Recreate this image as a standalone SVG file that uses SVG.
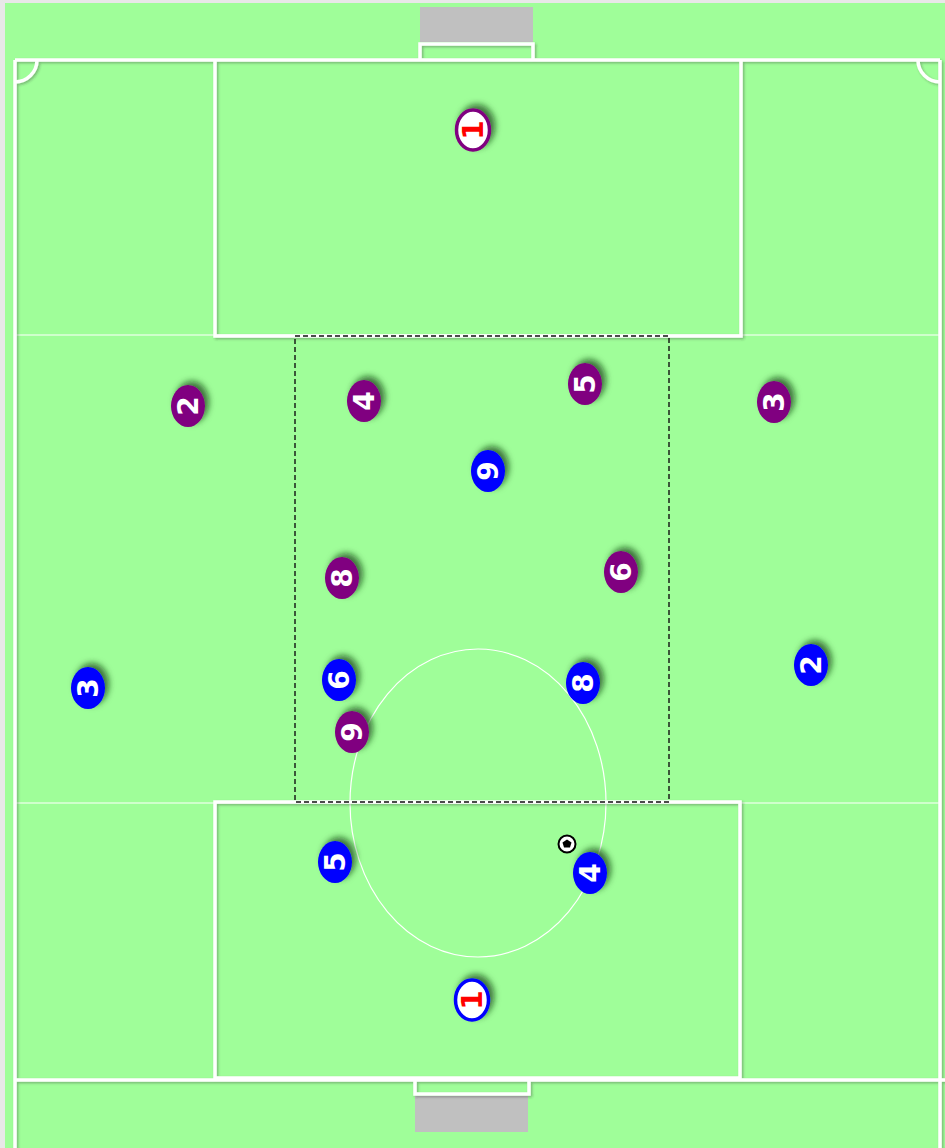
<svg xmlns="http://www.w3.org/2000/svg" width="945" height="1148" viewBox="0 0 945 1148">
<defs>
<filter id="sh" x="-50%" y="-50%" width="200%" height="200%">
<feDropShadow dx="4" dy="-4" stdDeviation="3" flood-color="#143d12" flood-opacity="0.7"/>
</filter>
<filter id="lsh" x="-5%" y="-5%" width="110%" height="110%">
<feDropShadow dx="1.5" dy="1.5" stdDeviation="1" flood-color="#333" flood-opacity="0.35"/>
</filter>
</defs>
<style>
.ln{fill:none;stroke:#fff;stroke-width:3.5}
.thin{fill:none;stroke:#fff;stroke-width:1.2}
.goal{fill:#c0c0c0}
.p{fill:#800080}
.b{fill:#0000ff}
.gkp{fill:#fff;stroke:#800080;stroke-width:3.5}
.gkb{fill:#fff;stroke:#0000ff;stroke-width:3.5}
.t{font-family:"DejaVu Sans",sans-serif;font-weight:bold;font-size:28px;fill:#fff;text-anchor:middle;dominant-baseline:central}
.r{fill:#ff0000}
</style>
<rect x="0" y="0" width="945" height="1148" fill="#e8e8e8"/>
<rect x="5" y="3" width="940" height="1145" fill="#9ffe99"/>
<g id="pitch">
<rect class="goal" x="420" y="7" width="113" height="35"/>
<rect class="goal" x="415" y="1096" width="113" height="36"/>
<line class="thin" x1="15" y1="335" x2="940" y2="335"/>
<line class="thin" x1="15" y1="803" x2="940" y2="803"/>
<ellipse class="thin" cx="478" cy="803" rx="128" ry="154"/>
<g filter="url(#lsh)">
<polyline class="ln" points="420,60 420,44 533,44 533,60"/>
<line class="ln" x1="15" y1="60" x2="940" y2="60"/>
<line class="ln" x1="15" y1="60" x2="15" y2="1148"/>
<line class="ln" x1="940" y1="60" x2="940" y2="1148"/>
<path class="ln" d="M37,60 A22,22 0 0 1 15,82"/>
<path class="ln" d="M918,60 A22,22 0 0 0 940,82"/>
<polyline class="ln" points="215,60 215,336 741,336 741,60"/>
<rect class="ln" x="215" y="802" width="525" height="276"/>
<line class="ln" x1="15" y1="1080" x2="945" y2="1080"/>
<polyline class="ln" points="415,1080 415,1094 529,1094 529,1080"/>
</g>
<rect x="295" y="336" width="374" height="466" fill="none" stroke="#111" stroke-width="1.4" stroke-dasharray="5,3"/>
</g>
<g id="ball">
<circle cx="567" cy="844" r="8.5" fill="#fff" stroke="#000" stroke-width="2"/>
<polygon points="567,839.5 571.5,842.5 570,847.5 564,847.5 562.5,842.5" fill="#000"/>
</g>
<g id="p-gk"><ellipse class="gkp" cx="473" cy="130" rx="16.5" ry="20" filter="url(#sh)"/><text class="t r" transform="translate(473,130) rotate(-90)">1</text></g>
<g id="p-2"><ellipse class="p" cx="188" cy="406" rx="17" ry="21" filter="url(#sh)"/><text class="t" transform="translate(188,406) rotate(-90)">2</text></g>
<g id="p-4"><ellipse class="p" cx="364" cy="401" rx="17" ry="21" filter="url(#sh)"/><text class="t" transform="translate(364,401) rotate(-90)">4</text></g>
<g id="p-5"><ellipse class="p" cx="585" cy="384" rx="17" ry="21" filter="url(#sh)"/><text class="t" transform="translate(585,384) rotate(-90)">5</text></g>
<g id="p-3"><ellipse class="p" cx="774" cy="402" rx="17" ry="21" filter="url(#sh)"/><text class="t" transform="translate(774,402) rotate(-90)">3</text></g>
<g id="p-8"><ellipse class="p" cx="342" cy="578" rx="17" ry="21" filter="url(#sh)"/><text class="t" transform="translate(342,578) rotate(-90)">8</text></g>
<g id="p-6"><ellipse class="p" cx="621" cy="572" rx="17" ry="21" filter="url(#sh)"/><text class="t" transform="translate(621,572) rotate(-90)">6</text></g>
<g id="p-9"><ellipse class="p" cx="352" cy="732" rx="17" ry="21" filter="url(#sh)"/><text class="t" transform="translate(352,732) rotate(-90)">9</text></g>
<g id="b-9"><ellipse class="b" cx="488" cy="471" rx="17" ry="21" filter="url(#sh)"/><text class="t" transform="translate(488,471) rotate(-90)">9</text></g>
<g id="b-3"><ellipse class="b" cx="88" cy="688" rx="17" ry="21" filter="url(#sh)"/><text class="t" transform="translate(88,688) rotate(-90)">3</text></g>
<g id="b-6"><ellipse class="b" cx="339" cy="680" rx="17" ry="21" filter="url(#sh)"/><text class="t" transform="translate(339,680) rotate(-90)">6</text></g>
<g id="b-8"><ellipse class="b" cx="583" cy="683" rx="17" ry="21" filter="url(#sh)"/><text class="t" transform="translate(583,683) rotate(-90)">8</text></g>
<g id="b-2"><ellipse class="b" cx="811" cy="665" rx="17" ry="21" filter="url(#sh)"/><text class="t" transform="translate(811,665) rotate(-90)">2</text></g>
<g id="b-5"><ellipse class="b" cx="335" cy="862" rx="17" ry="21" filter="url(#sh)"/><text class="t" transform="translate(335,862) rotate(-90)">5</text></g>
<g id="b-4"><ellipse class="b" cx="590" cy="873" rx="17" ry="21" filter="url(#sh)"/><text class="t" transform="translate(590,873) rotate(-90)">4</text></g>
<g id="b-gk"><ellipse class="gkb" cx="472" cy="1000" rx="16.5" ry="20" filter="url(#sh)"/><text class="t r" transform="translate(472,1000) rotate(-90)">1</text></g>
<g id="connectors"/>
</svg>
